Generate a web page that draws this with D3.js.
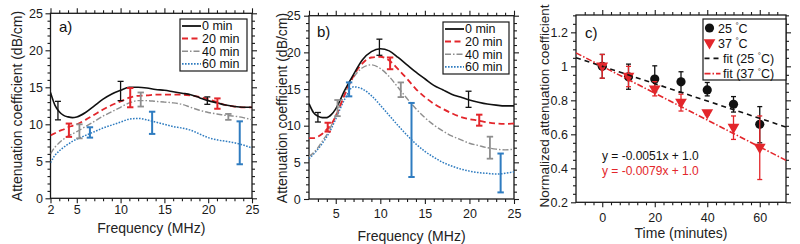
<!DOCTYPE html>
<html><head><meta charset="utf-8">
<script src="https://cdn.jsdelivr.net/npm/d3@7"></script>
<style>body{margin:0;background:#fff}svg{display:block}text{font-family:"Liberation Sans",Arial,Helvetica,sans-serif}</style>
</head><body><svg id="chart" width="800" height="244"></svg>
<script>
// ---------- data ----------
const freq = [2,2.5,3,3.5,4,4.5,5,6,7,8,9,10,11,12,13,14,15,16,17,18,19,20,21,22,23,24,25];
// panel a)
const a0  = [14.3,12.6,11.7,11.2,11.0,10.9,11.0,11.6,12.5,13.4,14.1,14.6,15.0,15.0,14.9,14.7,14.6,14.4,14.2,14.0,13.6,13.2,12.9,12.6,12.4,12.3,12.3];
const a20 = [8.5,8.8,9.1,9.3,9.6,9.8,10.0,10.6,11.3,12.0,12.6,13.1,13.6,13.85,13.9,14.0,14.0,14.0,14.0,13.9,13.7,13.4,13.0,12.6,12.4,12.3,12.3];
const a40 = [6.0,6.9,7.5,8.0,8.4,8.7,9.0,9.7,10.4,11.1,11.7,12.3,12.9,13.2,13.2,13.1,13.0,12.9,12.7,12.3,11.9,11.6,11.4,11.2,11.1,10.9,10.6];
const a60 = [4.8,5.8,6.4,6.9,7.3,7.7,8.0,8.5,9.0,9.5,9.9,10.3,10.7,10.8,10.6,10.3,10.0,9.7,9.5,9.2,8.7,8.2,7.9,7.7,7.5,7.2,6.8];
const aErr0  = [[2.85,10.6,13.1],[10.0,13.2,15.8],[19.9,12.7,13.7]];
const aErr20 = [[4.1,8.3,10.1],[11.1,12.3,14.9],[21.05,12.1,13.5]];
const aErr40 = [[5.3,8.1,10.0],[12.3,12.4,14.3],[22.3,10.6,11.4]];
const aErr60 = [[6.5,8.2,9.6],[13.6,8.7,11.7],[23.6,4.6,10.4]];
// panel b)
const b0  = [13.0,11.8,11.3,11.1,11.1,11.5,12.3,14.8,17.0,19.0,20.1,20.5,20.2,19.3,18.3,17.3,16.4,15.5,14.9,14.3,13.9,13.5,13.2,12.95,12.8,12.7,12.7];
const b20 = [8.3,8.3,8.5,8.9,9.5,10.2,11.3,14.2,16.8,18.5,19.3,19.4,18.9,17.7,16.4,15.0,13.9,13.0,12.3,11.7,11.2,10.9,10.7,10.45,10.3,10.25,10.3];
const b40 = [5.8,6.3,7.0,7.9,8.8,10.0,11.4,14.3,16.6,17.9,18.3,17.8,16.7,15.2,13.7,12.3,11.1,10.1,9.3,8.6,8.1,7.6,7.3,7.0,6.8,6.7,6.8];
const b60 = [5.5,6.1,6.8,7.6,8.5,9.6,10.9,13.6,15.3,15.0,14.1,12.8,11.4,10.0,8.7,7.5,6.5,5.7,5.0,4.5,4.1,3.8,3.6,3.5,3.4,3.5,3.7];
const bErr0  = [[3.0,10.5,11.8],[9.9,19.6,21.8],[19.9,12.5,14.7]];
const bErr20 = [[4.1,9.2,10.4],[11.1,17.7,19.3],[21.1,10.0,11.5]];
const bErr40 = [[5.2,11.3,13.5],[12.3,13.9,15.9],[22.3,5.5,8.5]];
const bErr60 = [[6.5,14.0,15.9],[13.5,3.0,13.1],[23.5,0.9,6.2]];
// panel c)
const time  = [0,10,20,30,40,50,60];
const c25   = [1.0,0.938,0.925,0.909,0.861,0.777,0.659];
const c25lo = [0.93,0.865,0.85,0.846,0.826,0.731,0.55];
const c25hi = [1.07,1.013,1.003,0.968,0.905,0.822,0.763];
const c37   = [1.0,0.94,0.865,0.787,0.724,0.639,0.521];
const c37lo = [0.93,0.88,0.826,0.737,0.714,0.57,0.334];
const c37hi = [1.07,1.0,0.91,0.836,0.734,0.708,0.708];
const fitSlope = [-0.0051,-0.0079];
const fitIntercept = [1.0,1.0];
// tick labels / legend labels
const seriesLabels = ["0 min","20 min","40 min","60 min"];
const xTicksA = [2,5,10,15,20,25];
const xTicksB = [5,10,15,20,25];
const yTicksAB = [0,5,10,15,20,25];
const xTicksC = [0,20,40,60];
const yTicksC = [0.2,0.4,0.6,0.8,1,1.2];

// ---------- styles ----------
const RED="#e3262b", BLUE="#2f7cc0", GRAY="#8e8e8e", BLK="#111";
const styles = [
  {c:BLK, w:1.6, d:null},
  {c:RED, w:1.8, d:"6,3.5"},
  {c:GRAY,w:1.4, d:"6,2,1.5,2"},
  {c:BLUE,w:1.5, d:"1.6,1.4"}
];
const errW = [1.3,2.0,1.8,2.0];
const FONT='"Liberation Sans",Arial,Helvetica,sans-serif';
const svg = d3.select("#chart");

function frame(g, x, y, o){
  const [x0,x1]=x.range(), [y1,y0]=y.range();
  const sty = s => s.attr("font-size",o.fs||12.5).attr("font-family",FONT).attr("color","#1a1a1a")
      .call(q=>q.select(".domain").remove()).selectAll("line").attr("stroke-width",1.1);
  g.append("g").attr("transform",`translate(0,${y1})`).call(d3.axisBottom(x).tickValues(o.xMaj).tickSize(5).tickPadding(o.xPad).tickFormat(o.xFmt||(d=>d))).call(sty);
  g.append("g").attr("transform",`translate(0,${y1})`).call(d3.axisBottom(x).tickValues(o.xMin).tickSize(3).tickFormat("")).call(sty);
  g.append("g").attr("transform",`translate(0,${y0})`).call(d3.axisTop(x).tickValues(o.xMajAll||o.xMaj).tickSize(5).tickFormat("")).call(sty);
  g.append("g").attr("transform",`translate(0,${y0})`).call(d3.axisTop(x).tickValues(o.xMin).tickSize(3).tickFormat("")).call(sty);
  g.append("g").attr("transform",`translate(${x0},0)`).call(d3.axisLeft(y).tickValues(o.yMaj).tickSize(5).tickPadding(o.yPad).tickFormat(o.yFmt||(d=>d))).call(sty);
  g.append("g").attr("transform",`translate(${x0},0)`).call(d3.axisLeft(y).tickValues(o.yMin).tickSize(3).tickFormat("")).call(sty);
  g.append("g").attr("transform",`translate(${x1},0)`).call(d3.axisRight(y).tickValues(o.yMaj).tickSize(5).tickFormat("")).call(sty);
  g.append("g").attr("transform",`translate(${x1},0)`).call(d3.axisRight(y).tickValues(o.yMin).tickSize(3).tickFormat("")).call(sty);
  g.append("rect").attr("x",x0).attr("y",y0).attr("width",x1-x0).attr("height",y1-y0)
    .attr("fill","none").attr("stroke","#1a1a1a").attr("stroke-width",1.3);
}
function range(a,b,s){const r=[];for(let v=a;v<=b+1e-9;v+=s)r.push(+v.toFixed(6));return r;}
const notIn = (arr, maj) => arr.filter(v=>!maj.some(m=>Math.abs(m-v)<1e-6));

function errbars(g,x,y,data,color,w,cap){
  data.forEach(([f,lo,hi])=>{
    const px=x(f);
    g.append("line").attr("x1",px).attr("x2",px).attr("y1",y(lo)).attr("y2",y(hi)).attr("stroke",color).attr("stroke-width",w);
    [lo,hi].forEach(v=>g.append("line").attr("x1",px-cap).attr("x2",px+cap).attr("y1",y(v)).attr("y2",y(v)).attr("stroke",color).attr("stroke-width",w));
  });
}

function freqPanel(box, series, errs, opts){
  const g = svg.append("g");
  const x = d3.scaleLinear().domain([2,25]).range([box.x0,box.x1]);
  const y = d3.scaleLinear().domain([0,25]).range([box.y1,box.y0]);
  frame(g,x,y,{xMaj:opts.xTicks, xMajAll:xTicksA, xMin:notIn(range(2,25,1),xTicksA).filter(v=>v>2),
    yMaj:yTicksAB, yMin:notIn(range(0,25,1),yTicksAB), xPad:opts.xPad, yPad:opts.yPad});
  const line = d3.line().x((d,i)=>x(freq[i])).y(d=>y(d)).curve(d3.curveMonotoneX);
  const clip = "clip"+opts.id;
  g.append("clipPath").attr("id",clip).append("rect").attr("x",box.x0).attr("y",box.y0).attr("width",box.x1-box.x0).attr("height",box.y1-box.y0);
  const cg = g.append("g").attr("clip-path",`url(#${clip})`);
  [3,2,1,0].forEach(k=>{
    cg.append("path").attr("d",line(series[k])).attr("fill","none").attr("stroke",styles[k].c)
      .attr("stroke-width",styles[k].w).attr("stroke-dasharray",styles[k].d);
  });
  errs.forEach((e,k)=>errbars(g,x,y,e,styles[k].c,errW[k],k===0?3:3.2));
  // legend
  const L = opts.legend;
  g.append("rect").attr("x",L.x).attr("y",L.y).attr("width",L.w).attr("height",L.h).attr("fill","#fff").attr("stroke","#1a1a1a").attr("stroke-width",1.2);
  seriesLabels.forEach((t,k)=>{
    const ly = L.y+7+k*12.6;
    g.append("line").attr("x1",L.x+2).attr("x2",L.x+21).attr("y1",ly).attr("y2",ly).attr("stroke",styles[k].c)
      .attr("stroke-width",styles[k].w+0.2).attr("stroke-dasharray",styles[k].d);
    g.append("text").attr("x",L.x+22).attr("y",ly+4.3).attr("font-size",12.5).attr("fill","#111").text(t);
  });
  g.append("text").attr("x",opts.tag[0]).attr("y",opts.tag[1]).attr("font-size",15).attr("fill","#111").text(opts.tagText);
  g.append("text").attr("transform",`translate(${opts.ylab[0]},${opts.ylab[1]}) rotate(-90)`).attr("text-anchor","middle")
    .attr("font-size",14).attr("fill","#222").text("Attenuation coefficient (dB/cm)");
  g.append("text").attr("x",(box.x0+box.x1)/2).attr("y",opts.xlabY).attr("text-anchor","middle")
    .attr("font-size",14).attr("fill","#222").text("Frequency (MHz)");
}

freqPanel({x0:50.5,x1:252,y0:13.3,y1:198.3},[a0,a20,a40,a60],[aErr0,aErr20,aErr40,aErr60],
  {id:"a",xTicks:xTicksA,xPad:2,yPad:2.5,legend:{x:180,y:19,w:67,h:52},tag:[59,32],tagText:"a)",ylab:[22,106],xlabY:233});
freqPanel({x0:309,x1:514,y0:15.7,y1:199},[b0,b20,b40,b60],[bErr0,bErr20,bErr40,bErr60],
  {id:"b",xTicks:xTicksB,xPad:5,yPad:3.3,legend:{x:443,y:22,w:66,h:52},tag:[317,37],tagText:"b)",ylab:[287,108],xlabY:241});

// ---------- panel c ----------
(function(){
  const box={x0:576,x1:786,y0:15,y1:202.3};
  const g = svg.append("g");
  const x = d3.scaleLinear().domain([-10,70]).range([box.x0,box.x1]);
  const y = d3.scaleLinear().domain([0.2,1.302]).range([box.y1,box.y0]);
  frame(g,x,y,{xMaj:xTicksC, xMin:notIn(range(-10,70,10/3),xTicksC).filter(v=>v>-10&&v<70),
    yMaj:yTicksC, yMin:notIn(range(0.2,1.3,0.05),yTicksC).filter(v=>v>0.2), xPad:5.5, yPad:3,
    yFmt:d=>d===1?"1":d3.format(".1f")(d)});
  // error bars
  const eb=(lo,hi,col)=>time.forEach((t,i)=>{
    const px=x(t);
    g.append("line").attr("x1",px).attr("x2",px).attr("y1",y(lo[i])).attr("y2",y(hi[i])).attr("stroke",col).attr("stroke-width",1.3);
    [lo[i],hi[i]].forEach(v=>g.append("line").attr("x1",px-2.5).attr("x2",px+2.5).attr("y1",y(v)).attr("y2",y(v)).attr("stroke",col).attr("stroke-width",1.3));
  });
  eb(c25lo,c25hi,BLK);
  g.selectAll(".dot").data(time).enter().append("circle").attr("cx",d=>x(d)).attr("cy",(d,i)=>y(c25[i])).attr("r",4.6).attr("fill",BLK);
  eb(c37lo,c37hi,RED);
  const tri = d3.symbol().type(d3.symbolTriangle).size(60);
  g.selectAll(".tri").data(time).enter().append("path").attr("d",tri)
    .attr("transform",(d,i)=>`translate(${x(d)},${y(c37[i])-0.5}) rotate(180)`).attr("fill",RED);
  // fit lines
  const clip="clipc";
  g.append("clipPath").attr("id",clip).append("rect").attr("x",box.x0).attr("y",box.y0).attr("width",box.x1-box.x0).attr("height",box.y1-box.y0);
  const fitStyle=[{c:BLK,d:"5,4"},{c:RED,d:"6,2,1.5,2"}];
  fitSlope.forEach((m,k)=>{
    const xs=x.domain();
    g.append("line").attr("clip-path",`url(#${clip})`).attr("x1",x(xs[0])).attr("x2",x(xs[1]))
      .attr("y1",y(fitIntercept[k]+m*xs[0])).attr("y2",y(fitIntercept[k]+m*xs[1]))
      .attr("stroke",fitStyle[k].c).attr("stroke-width",1.6).attr("stroke-dasharray",fitStyle[k].d);
  });
  // legend
  const L={x:703,y:19,w:83,h:61};
  g.append("rect").attr("x",L.x).attr("y",L.y).attr("width",L.w).attr("height",L.h).attr("fill","#fff").attr("stroke","#1a1a1a").attr("stroke-width",1.2);
  const ly=k=>L.y+9+k*15.2;
  g.append("circle").attr("cx",L.x+6.5).attr("cy",ly(0)).attr("r",4.6).attr("fill",BLK);
  g.append("path").attr("d",tri).attr("transform",`translate(${L.x+6.5},${ly(1)-0.5}) rotate(180)`).attr("fill",RED);
  fitStyle.forEach((s,k)=>g.append("line").attr("x1",L.x+1.5).attr("x2",L.x+17.5).attr("y1",ly(k+2)).attr("y2",ly(k+2))
    .attr("stroke",s.c).attr("stroke-width",1.6).attr("stroke-dasharray",s.d));
  const deg=(tx,ty,pre,post)=>{
    const t=g.append("text").attr("x",tx).attr("y",ty).attr("font-size",12.5).attr("fill","#111");
    t.append("tspan").text(pre+" ");
    t.append("tspan").attr("font-size",8).attr("dy",-4.5).text("°");
    t.append("tspan").attr("dy",4.5).text("C"+post);
  };
  deg(L.x+15,ly(0)+4.5,"25","");
  deg(L.x+15,ly(1)+4.5,"37","");
  deg(L.x+20,ly(2)+4.5,"fit (25",")");
  deg(L.x+20,ly(3)+4.5,"fit (37",")");
  // equations
  const eqFmt=(m,b)=>`y = ${m.toFixed(4)}x + ${b.toFixed(1)}`;
  g.append("text").attr("x",602).attr("y",160).attr("font-size",12).attr("fill",BLK).text(eqFmt(fitSlope[0],fitIntercept[0]));
  g.append("text").attr("x",602).attr("y",175).attr("font-size",12).attr("fill",RED).text(eqFmt(fitSlope[1],fitIntercept[1]));
  g.append("text").attr("x",585).attr("y",38).attr("font-size",15).attr("fill","#111").text("c)");
  g.append("text").attr("transform",`translate(549,106) rotate(-90)`).attr("text-anchor","middle")
    .attr("font-size",13.5).attr("fill","#222").text("Normalized attenuation coefficient");
  g.append("text").attr("x",(box.x0+box.x1)/2).attr("y",238).attr("text-anchor","middle")
    .attr("font-size",14).attr("fill","#222").text("Time (minutes)");
})();
</script></body></html>
